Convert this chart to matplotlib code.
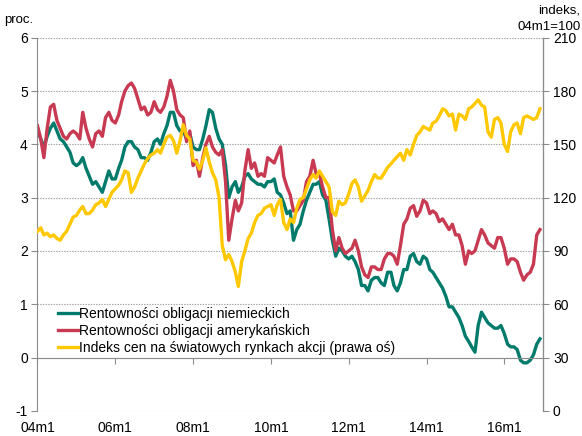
import matplotlib
matplotlib.use("Agg")
import matplotlib.pyplot as plt
import pandas as pd

plt.rcParams["font.family"] = ["Liberation Sans", "DejaVu Sans"]
plt.rcParams["axes.unicode_minus"] = False

# monthly readings, Jan 2004 - Dec 2016
dates = pd.date_range("2004-01-01", "2016-12-01", freq="MS")

de_yield = [
    4.25, 4.1, 3.95, 4.15, 4.3, 4.4, 4.25, 4.1, 4.05, 3.95, 3.85, 3.65,   # 2004
    3.6, 3.65, 3.75, 3.55, 3.4, 3.25, 3.3, 3.2, 3.1, 3.3, 3.5, 3.35,      # 2005
    3.35, 3.55, 3.7, 3.95, 4.05, 4.05, 3.95, 3.9, 3.75, 3.75, 3.7, 3.85,  # 2006
    4.05, 4.1, 4.0, 4.2, 4.35, 4.6, 4.6, 4.35, 4.25, 4.25, 4.1, 4.2,      # 2007
    3.95, 3.9, 3.9, 4.1, 4.35, 4.65, 4.6, 4.3, 4.1, 4.0, 3.6, 3.0,        # 2008
    3.2, 3.3, 3.1, 3.2, 3.4, 3.45, 3.35, 3.3, 3.25, 3.25, 3.2, 3.3,       # 2009
    3.3, 3.35, 3.1, 3.05, 2.9, 2.7, 2.75, 2.2, 2.4, 2.5, 2.75, 2.95,      # 2010
    3.1, 3.25, 3.25, 3.3, 3.05, 2.95, 2.6, 2.2, 1.9, 2.05, 2.0, 1.9,      # 2011
    1.85, 1.9, 1.8, 1.65, 1.35, 1.35, 1.25, 1.45, 1.5, 1.5, 1.4, 1.35,    # 2012
    1.6, 1.6, 1.35, 1.25, 1.4, 1.65, 1.65, 1.9, 1.95, 1.8, 1.75, 1.9,     # 2013
    1.85, 1.65, 1.6, 1.5, 1.4, 1.3, 1.15, 0.95, 0.95, 0.85, 0.75, 0.6,    # 2014
    0.4, 0.3, 0.2, 0.1, 0.6, 0.85, 0.75, 0.65, 0.6, 0.55, 0.55, 0.6,      # 2015
    0.45, 0.25, 0.2, 0.2, 0.15, -0.05, -0.1, -0.1, -0.05, 0.05, 0.25, 0.35,  # 2016
]

us_yield = [
    4.35, 4.1, 3.75, 4.3, 4.7, 4.75, 4.45, 4.3, 4.15, 4.1, 4.2, 4.25,     # 2004
    4.2, 4.1, 4.6, 4.3, 4.1, 3.95, 4.2, 4.25, 4.15, 4.5, 4.6, 4.45,       # 2005
    4.4, 4.55, 4.8, 5.0, 5.1, 5.15, 5.05, 4.85, 4.65, 4.7, 4.55, 4.6,     # 2006
    4.8, 4.65, 4.6, 4.7, 4.9, 5.2, 5.0, 4.65, 4.55, 4.5, 4.05, 4.25,      # 2007
    3.6, 3.7, 3.4, 3.75, 4.0, 4.15, 3.95, 3.85, 3.8, 3.9, 3.3, 2.2,       # 2008
    2.6, 2.95, 2.75, 2.9, 3.5, 3.9, 3.55, 3.65, 3.4, 3.45, 3.4, 3.75,     # 2009
    3.7, 3.65, 3.8, 3.95, 3.4, 3.2, 3.05, 2.75, 2.75, 2.85, 2.95, 3.3,    # 2010
    3.4, 3.7, 3.45, 3.45, 3.2, 3.0, 3.0, 2.4, 2.0, 2.25, 2.05, 1.95,      # 2011
    2.0, 2.05, 2.2, 2.0, 1.7, 1.55, 1.5, 1.7, 1.7, 1.65, 1.65, 1.85,      # 2012
    1.95, 1.95, 1.9, 1.75, 2.1, 2.5, 2.6, 2.8, 2.85, 2.65, 2.75, 2.95,    # 2013
    2.9, 2.7, 2.75, 2.7, 2.55, 2.6, 2.5, 2.4, 2.5, 2.3, 2.3, 2.1,         # 2014
    1.75, 2.0, 1.95, 2.0, 2.2, 2.4, 2.3, 2.15, 2.1, 2.05, 2.25, 2.25,     # 2015
    2.05, 1.75, 1.85, 1.85, 1.8, 1.6, 1.45, 1.55, 1.6, 1.75, 2.3, 2.4,    # 2016
]

stock_index = [
    101, 103, 99, 100, 98, 99, 97, 96, 99, 101, 105, 109,                 # 2004
    110, 113, 115, 111, 111, 113, 116, 117, 119, 115, 119, 123,           # 2005
    125, 127, 130, 135, 134, 123, 126, 131, 135, 139, 142, 144,           # 2006
    145, 147, 145, 150, 154, 155, 152, 145, 152, 161, 155, 153,           # 2007
    141, 140, 136, 141, 148, 140, 134, 130, 120, 93, 85, 88,              # 2008
    84, 78, 70, 84, 90, 97, 100, 106, 110, 111, 114, 115,                 # 2009
    116, 110, 116, 119, 106, 102, 108, 106, 114, 119, 120, 125,           # 2010
    130, 133, 131, 135, 132, 129, 126, 112, 110, 118, 116, 117,           # 2011
    122, 128, 130, 126, 118, 121, 124, 129, 133, 131, 131, 134,           # 2012
    137, 139, 141, 143, 145, 141, 147, 144, 150, 155, 157, 160,           # 2013
    159, 158, 162, 163, 166, 170, 169, 166, 167, 158, 167, 166,           # 2014
    164, 170, 171, 173, 175, 172, 171, 157, 154, 164, 165, 162,           # 2015
    150, 146, 157, 161, 162, 156, 165, 166, 165, 164, 165, 170,           # 2016
]

labels = ["Rentowności obligacji niemieckich",
          "Rentowności obligacji amerykańskich",
          "Indeks cen na światowych rynkach akcji (prawa oś)"]

xtick_dates = pd.date_range("2004-01-01", "2016-01-01", freq="24MS")
xtick_labels = [d.strftime("%y") + "m1" for d in xtick_dates]

green = "#007B6B"
red = "#C83A52"
yellow = "#FFC800"
grey = "#8C8C8C"

fig = plt.figure(figsize=(5.82, 4.36), dpi=100)
ax = fig.add_axes([0.0644, 0.0578, 0.869, 0.8557])
ax2 = ax.twinx()

l1, = ax.plot(dates, de_yield, color=green, lw=2.4, label=labels[0])
l2, = ax.plot(dates, us_yield, color=red, lw=2.4, label=labels[1])
l3, = ax2.plot(dates, stock_index, color=yellow, lw=2.4, label=labels[2])

ax.set_ylim(-1, 6)
ax.set_yticks(range(-1, 7))
ax2.set_ylim(0, 210)
ax2.set_yticks(range(0, 211, 30))
ax.set_xlim(pd.Timestamp("2004-01-01"), pd.Timestamp("2017-01-01"))
ax.set_xticks(xtick_dates)
ax.set_xticklabels(xtick_labels)

ax.yaxis.grid(True, color="#A0A0A0", ls=(0, (1.2, 1.2)), lw=0.8)
ax.set_axisbelow(True)

ax.spines["bottom"].set_position(("data", 0))
ax.spines["top"].set_visible(False)
ax2.spines["top"].set_visible(False)
ax2.spines["bottom"].set_visible(False)
for sp in ["left", "bottom"]:
    ax.spines[sp].set_color(grey)
ax2.spines["right"].set_color(grey)
ax2.spines["left"].set_visible(False)

ax.tick_params(axis="x", direction="out", length=4, color=grey, pad=42, labelsize=10)
ax.tick_params(axis="y", direction="out", length=4, color=grey, labelsize=10, pad=3)
ax2.tick_params(axis="y", direction="out", length=4, color=grey, labelsize=10, pad=3)

fig.text(0.008, 0.955, "proc.", fontsize=9.5, ha="left", va="center")
fig.text(0.997, 0.976, "indeks,", fontsize=9.5, ha="right", va="center")
fig.text(0.997, 0.937, "04m1=100", fontsize=9.5, ha="right", va="center")

leg = ax2.legend(handles=[l1, l2, l3], loc="lower left", bbox_to_anchor=(0.03, 0.135),
                 frameon=False, fontsize=10, handlelength=1.45, handletextpad=0.08,
                 labelspacing=0.2, borderaxespad=0)
for h in leg.get_lines():
    h.set_linewidth(2.4)

fig.savefig("out.png", dpi=100)
